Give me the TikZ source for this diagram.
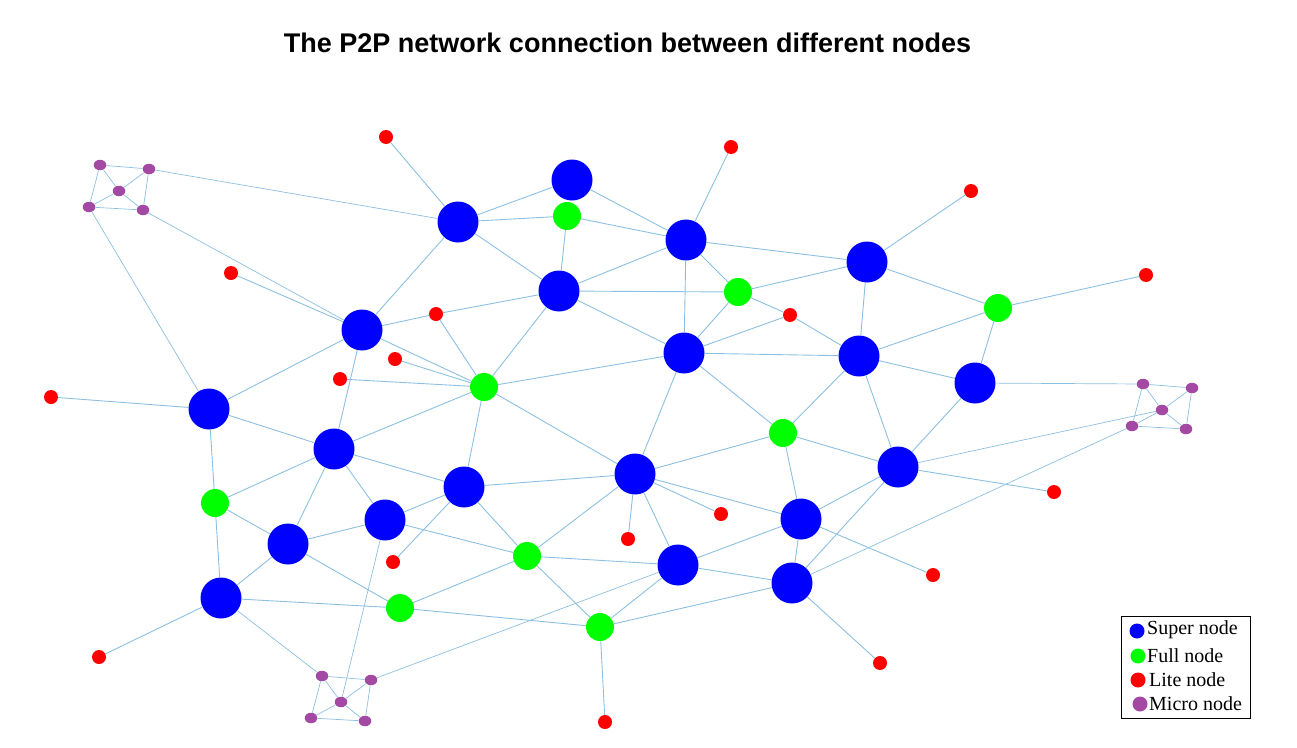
\documentclass[tikz,border=0pt]{standalone}
\usepackage{fontspec}
\setmainfont{Liberation Serif}
\newfontfamily\titlefont{Liberation Sans}
\usetikzlibrary{shapes.geometric}
\definecolor{edgeblue}{RGB}{140,192,226}
\definecolor{superblue}{RGB}{0,0,255}
\definecolor{fullgreen}{RGB}{0,255,0}
\definecolor{litered}{RGB}{255,0,0}
\definecolor{micropurple}{RGB}{163,73,164}
\begin{document}
\begin{tikzpicture}[x=1pt,y=-1pt,
  supern/.style={circle,fill=superblue,inner sep=0pt,minimum size=41pt},
  fulln/.style={circle,fill=fullgreen,inner sep=0pt,minimum size=28pt},
  liten/.style={circle,fill=litered,inner sep=0pt,minimum size=14pt},
  micron/.style={ellipse,fill=micropurple,inner sep=0pt,minimum width=12.5pt,minimum height=10.5pt},
  link/.style={draw=edgeblue,line width=0.9pt},
  legdot/.style={circle,inner sep=0pt,minimum size=15pt},
  legtext/.style={anchor=west,inner sep=0pt,font=\fontsize{20}{23}\selectfont}]
\useasboundingbox (0,0) rectangle (1297,747);

\node[font=\titlefont\bfseries\fontsize{27}{31}\selectfont] (title) at (627.5,43) {The P2P network connection between different nodes};

% super nodes
\node[supern] (S1) at (572,180) {};
\node[supern] (S2) at (458,222) {};
\node[supern] (S3) at (686,240) {};
\node[supern] (S4) at (867,262) {};
\node[supern] (S5) at (559,291) {};
\node[supern] (S6) at (362,330) {};
\node[supern] (S7) at (684,353) {};
\node[supern] (S8) at (859,356) {};
\node[supern] (S9) at (975,383) {};
\node[supern] (S10) at (209,409) {};
\node[supern] (S11) at (334,449) {};
\node[supern] (S12) at (635,474) {};
\node[supern] (S13) at (464,487) {};
\node[supern] (S14) at (898,467) {};
\node[supern] (S15) at (385,520) {};
\node[supern] (S16) at (801,519) {};
\node[supern] (S17) at (288,544) {};
\node[supern] (S18) at (678,565) {};
\node[supern] (S19) at (792,583) {};
\node[supern] (S20) at (221,598) {};

% full nodes
\node[fulln] (F1) at (567,216) {};
\node[fulln] (F2) at (738,292) {};
\node[fulln] (F3) at (998,308) {};
\node[fulln] (F4) at (484,387) {};
\node[fulln] (F5) at (783,433) {};
\node[fulln] (F6) at (215,503) {};
\node[fulln] (F7) at (527,556) {};
\node[fulln] (F8) at (400,608) {};
\node[fulln] (F9) at (600,627) {};

% lite nodes
\node[liten] (L1) at (386,137) {};
\node[liten] (L2) at (731,147) {};
\node[liten] (L3) at (971,191) {};
\node[liten] (L4) at (1146,275) {};
\node[liten] (L5) at (231,273) {};
\node[liten] (L6) at (436,314) {};
\node[liten] (L7) at (790,315) {};
\node[liten] (L8) at (395,359) {};
\node[liten] (L9) at (340,379) {};
\node[liten] (L10) at (51,397) {};
\node[liten] (L11) at (1054,492) {};
\node[liten] (L12) at (721,514) {};
\node[liten] (L13) at (628,539) {};
\node[liten] (L14) at (393,562) {};
\node[liten] (L15) at (933,575) {};
\node[liten] (L16) at (99,657) {};
\node[liten] (L17) at (880,663) {};
\node[liten] (L18) at (605,722) {};

% micro clusters
\node[micron] (Aa) at (100,165) {};
\node[micron] (Ab) at (149,169) {};
\node[micron] (Ac) at (119,191) {};
\node[micron] (Ad) at (89,207) {};
\node[micron] (Ae) at (143,210) {};

\node[micron] (Ba) at (1143,384) {};
\node[micron] (Bb) at (1192,388) {};
\node[micron] (Bc) at (1162,410) {};
\node[micron] (Bd) at (1132,426) {};
\node[micron] (Be) at (1186,429) {};

\node[micron] (Ca) at (322,676) {};
\node[micron] (Cb) at (371,680) {};
\node[micron] (Cc) at (341,702) {};
\node[micron] (Cd) at (311,718) {};
\node[micron] (Ce) at (365,721) {};

\foreach \m in {A,B,C}{
  \foreach \p/\q in {a/b,a/c,a/d,b/c,b/e,c/d,c/e,d/e}
    \draw[link,line width=0.7pt] (\m\p) -- (\m\q);
}

\foreach \a/\b in {Ab/S2,Ae/S6,Ad/S10,S9/Ba,S14/Bc,S19/Bd,S20/Ca,S15/Cc,S18/Cb}
  \draw[link,line width=0.7pt] (\a) -- (\b);

\foreach \a/\b in {S2/S1,S2/F1,S2/S5,S2/S6,S2/L1,
  S1/S3,F1/S3,F1/S5,S5/S3,S5/F2,S5/L6,S5/F4,S5/S7,
  S3/L2,S3/S4,S3/F2,S3/S7,
  F2/S4,F2/L7,F2/S7,L7/S8,L7/S7,S7/S8,S4/S8,S4/F3,S4/L3,S8/F3,S8/S9,F3/S9,F3/L4,
  S10/S6,S10/L10,S10/S11,S10/F6,
  L9/F4,S11/S6,S11/F4,S11/F6,S11/S13,S11/S17,S11/S15,
  F4/S13,F6/S17,F6/S20,S17/S15,S17/S20,S17/F8,S15/S13,S15/F7,S13/L14,S13/S12,S13/F7,
  S20/F8,F8/F7,F8/F9,S20/L16,
  F4/S12,F4/S7,S12/S7,S12/F5,S12/S16,S12/L12,S12/L13,S12/S18,S12/F7,
  S7/F5,F5/S8,F5/S14,F5/S16,S16/S18,S16/S19,S16/S14,S18/S19,S18/F7,S18/F9,F7/F9,F9/S19,F9/L18,S19/S14,S16/L15,
  S8/S14,S9/S14,S14/L11,S19/L17,
  L5/S6,S6/L6,S6/F4,L8/F4,L6/F4}
  \draw[link] (\a) -- (\b);

% legend
\node[draw=black,line width=1pt,inner sep=0pt,minimum width=129pt,minimum height=102pt] (legend) at (1185.5,667) {};
\node[legdot,fill=superblue] (g1) at (1137,631) {};
\node[legdot,fill=fullgreen] (g2) at (1138,656) {};
\node[legdot,fill=litered] (g3) at (1138,680) {};
\node[legdot,fill=micropurple] (g4) at (1140,704) {};
\node[legtext] (t1) at (1147,630) {Super node};
\node[legtext] (t2) at (1147,656) {Full node};
\node[legtext] (t3) at (1149,680) {Lite node};
\node[legtext] (t4) at (1149,704) {Micro node};
\end{tikzpicture}
\end{document}
